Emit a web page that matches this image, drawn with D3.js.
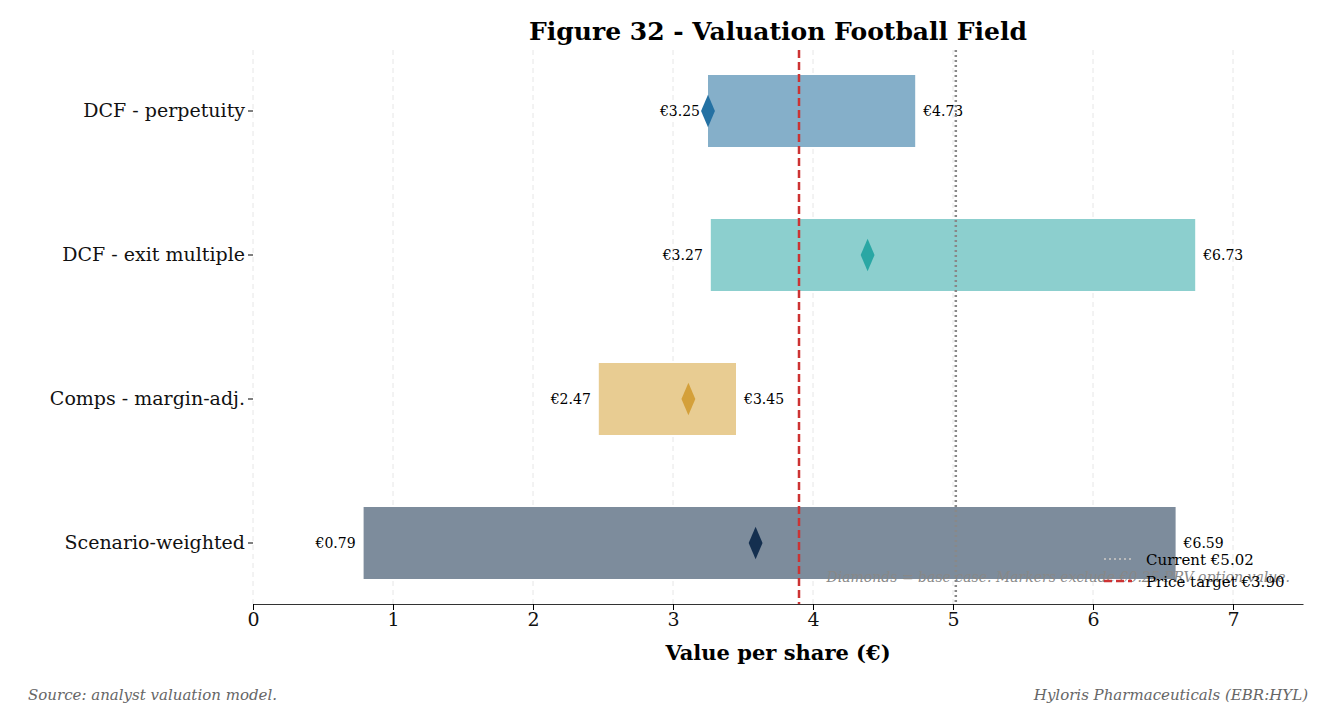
<!DOCTYPE html>
<html><head><meta charset="utf-8">
<script src="https://cdn.jsdelivr.net/npm/d3@7"></script>
<style>body{margin:0;background:#fff;font-family:"DejaVu Serif",serif;}</style>
</head><body>
<script>
const WIDTH = 1334, HEIGHT = 718;
const categories = ['DCF - perpetuity', 'DCF - exit multiple', 'Comps - margin-adj.', 'Scenario-weighted'];
const lows = [3.25, 3.27, 2.47, 0.79];
const highs = [4.73, 6.73, 3.45, 6.59];
const bases = [3.25, 4.39, 3.11, 3.59];
const barColors = ['#85afc9', '#8ccfce', '#e8cc92', '#7d8c9c'];
const dotColors = ['#2471a3', '#2aa7a4', '#d4a03a', '#142f4f'];
const xTicks = [0, 1, 2, 3, 4, 5, 6, 7];
const priceTarget = 3.90, currentPrice = 5.02;

const svg = d3.select('body').append('svg').attr('width', WIDTH).attr('height', HEIGHT);
const mLeft = 253, mRight = 1303, mBottom = 604;
const x = d3.scaleLinear().domain([0, 7.5]).range([mLeft, mRight]);
const y = d3.scaleBand().domain(categories).range([39, 615]).paddingInner(0.5).paddingOuter(0.25);

// grid
svg.append('g').selectAll('line').data(xTicks).join('line')
  .attr('x1', d => x(d)).attr('x2', d => x(d)).attr('y1', 50).attr('y2', mBottom)
  .attr('stroke', '#e6e6e6').attr('stroke-dasharray', '5,4');

const rows = svg.append('g').selectAll('g').data(categories).join('g');
rows.append('rect')
  .attr('x', (d, i) => x(lows[i])).attr('width', (d, i) => x(highs[i]) - x(lows[i]))
  .attr('y', d => y(d)).attr('height', y.bandwidth())
  .attr('fill', (d, i) => barColors[i]);
rows.append('text').attr('x', (d, i) => x(lows[i]) - 8).attr('y', d => y(d) + y.bandwidth() / 2 + 5)
  .attr('text-anchor', 'end').attr('font-size', 14).text((d, i) => '€' + lows[i].toFixed(2));
rows.append('text').attr('x', (d, i) => x(highs[i]) + 8).attr('y', d => y(d) + y.bandwidth() / 2 + 5)
  .attr('font-size', 14).text((d, i) => '€' + highs[i].toFixed(2));
rows.append('path').attr('d', d3.symbol(d3.symbolDiamond, 230)())
  .attr('transform', (d, i) => `translate(${x(bases[i])},${y(d) + y.bandwidth() / 2}) scale(0.85,1.15)`)
  .attr('fill', (d, i) => dotColors[i]);

// reference lines
svg.append('line').attr('x1', x(priceTarget)).attr('x2', x(priceTarget)).attr('y1', 50).attr('y2', mBottom)
  .attr('stroke', '#cc3333').attr('stroke-width', 2.5).attr('stroke-dasharray', '8,4');
svg.append('line').attr('x1', x(currentPrice)).attr('x2', x(currentPrice)).attr('y1', 50).attr('y2', mBottom)
  .attr('stroke', '#888').attr('stroke-width', 2.5).attr('stroke-dasharray', '2,3');

// axes
const xAxis = svg.append('g').attr('transform', `translate(0,${mBottom})`)
  .call(d3.axisBottom(x).tickValues(xTicks).tickSizeOuter(0));
xAxis.select('.domain').attr('stroke', '#333');
xAxis.selectAll('text').attr('font-size', 19).attr('font-family', 'DejaVu Serif').attr('fill', '#111');
const yAxis = svg.append('g').attr('transform', `translate(${mLeft},0)`)
  .call(d3.axisLeft(y).tickSize(5));
yAxis.select('.domain').remove();
yAxis.selectAll('text').attr('font-size', 19).attr('font-family', 'DejaVu Serif').attr('fill', '#111');

svg.append('text').attr('x', (mLeft + mRight) / 2).attr('y', 40).attr('text-anchor', 'middle')
  .attr('font-size', 25).attr('font-weight', 'bold').text('Figure 32 - Valuation Football Field');
svg.append('text').attr('x', (mLeft + mRight) / 2).attr('y', 660).attr('text-anchor', 'middle')
  .attr('font-size', 21).attr('font-weight', 'bold').text('Value per share (€)');

// note + legend
svg.append('text').attr('x', 1290).attr('y', 582).attr('text-anchor', 'end').attr('font-size', 14)
  .attr('font-style', 'italic').attr('fill', '#888').text('Diamonds = base case. Markers exclude €0.25 PRV option value.');
svg.append('line').attr('x1', 1104).attr('x2', 1132).attr('y1', 559).attr('y2', 559)
  .attr('stroke', '#bbb').attr('stroke-width', 2).attr('stroke-dasharray', '2,3');
svg.append('text').attr('x', 1146).attr('y', 565).attr('font-size', 15).text('Current €5.02');
svg.append('line').attr('x1', 1104).attr('x2', 1132).attr('y1', 581).attr('y2', 581)
  .attr('stroke', '#cc3333').attr('stroke-width', 2.5).attr('stroke-dasharray', '8,4');
svg.append('text').attr('x', 1146).attr('y', 587).attr('font-size', 15).text('Price target €3.90');

svg.append('text').attr('x', 28).attr('y', 700).attr('font-size', 15).attr('font-style', 'italic')
  .attr('fill', '#666').text('Source: analyst valuation model.');
svg.append('text').attr('x', 1308).attr('y', 700).attr('text-anchor', 'end').attr('font-size', 15)
  .attr('font-style', 'italic').attr('fill', '#666').text('Hyloris Pharmaceuticals (EBR:HYL)');
</script>
</body></html>
